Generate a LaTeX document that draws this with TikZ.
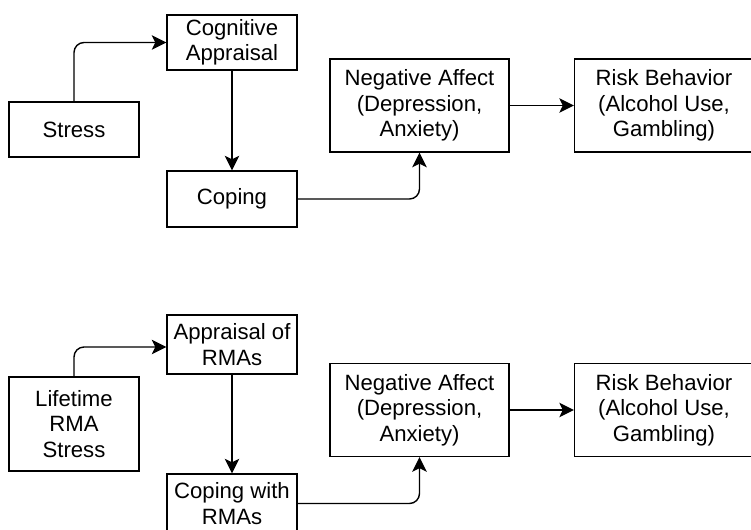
\documentclass[tikz,border=0pt]{standalone}
\usepackage{fontspec}
\setmainfont{Liberation Sans}
\usepackage{tikz}
\usetikzlibrary{arrows.meta}

\tikzset{
    caja/.style={draw, line width=0.8pt, rectangle, align=center, inner sep=2pt,
        minimum width=2.6cm, font=\fontsize{12.6}{14.4}\selectfont},
    ancha/.style={caja, minimum width=3.58cm, minimum height=1.86cm},
    flecha/.style={line width=0.8pt, rounded corners=0.2cm,
        -{Stealth[length=0.29cm, width=0.29cm, inset=0.07cm]}}
}

\begin{document}
\begin{tikzpicture}[x=0.02cm, y=-0.02cm]
        \useasboundingbox (0,0) rectangle (751,529);
        \clip (0,0) rectangle (751,529);

        % Modelo general
        \node[caja, minimum height=1.1cm] (stress) at (74,129.5) {Stress};
        \node[caja, minimum height=1.1cm] (apprais) at (232,42.5) {Cognitive\\Appraisal};
        \node[caja, minimum height=1.12cm] (coping) at (232,199) {Coping};
        \node[ancha] (negaff) at (419.5,105.5) {Negative Affect\\(Depression,\\Anxiety)};
        \node[ancha] (risk) at (664,105.5) {Risk Behavior\\(Alcohol Use,\\Gambling)};

        \draw[flecha] (stress.north) |- (apprais.west);
        \draw[flecha] (apprais.south) -- (coping.north);
        \draw[flecha] (coping.east) -| (negaff.south);
        \draw[flecha] (negaff.east) -- (risk.west);

        % Modelo RMA
        \node[caja, minimum height=1.88cm] (liferma) at (74,424) {Lifetime\\RMA\\Stress};
        \node[caja, minimum height=1.18cm] (apprrma) at (232,344.5) {Appraisal of\\RMAs};
        \node[caja, minimum height=1.18cm] (coprma) at (232,503.5) {Coping with\\RMAs};
        \node[ancha] (negaffrma) at (419.5,410) {Negative Affect\\(Depression,\\Anxiety)};
        \node[ancha] (riskrma) at (664,410) {Risk Behavior\\(Alcohol Use,\\Gambling)};

        \draw[flecha] (liferma.north) |- ([yshift=-0.05cm]apprrma.west);
        \draw[flecha] (apprrma.south) -- (coprma.north);
        \draw[flecha] (coprma.east) -| (negaffrma.south);
        \draw[flecha] (negaffrma.east) -- (riskrma.west);
    \end{tikzpicture}
\end{document}
